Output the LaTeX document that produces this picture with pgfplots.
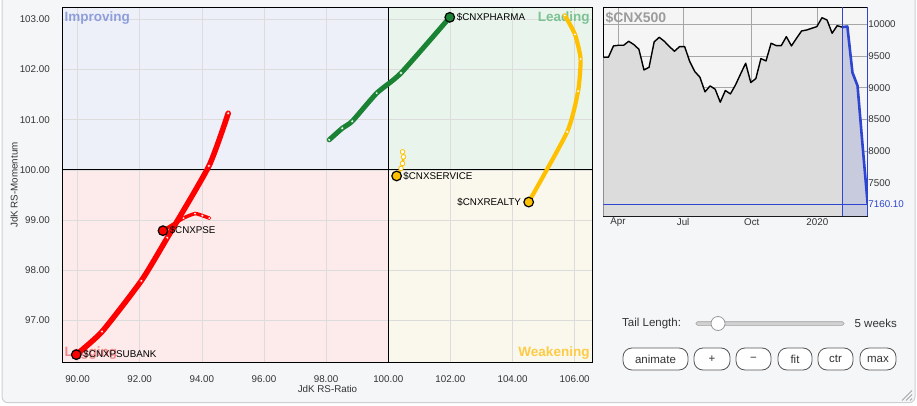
\documentclass[border=0pt]{standalone}
\usepackage{pgfplots}
\usepackage{pgfplotstable}
\pgfplotsset{compat=1.18}
\usepackage{fontspec}
\setmainfont{Liberation Sans}

\definecolor{panelbg}{HTML}{F4F6F8}
\definecolor{panelrule}{HTML}{CDD1D6}
\definecolor{improvingbg}{HTML}{EEF0F9}
\definecolor{leadingbg}{HTML}{E9F4EC}
\definecolor{laggingbg}{HTML}{FDEAEA}
\definecolor{weakeningbg}{HTML}{FAF8EC}
\definecolor{improvingtxt}{HTML}{8E9EDB}
\definecolor{leadingtxt}{HTML}{7CC292}
\definecolor{laggingtxt}{HTML}{F08A8A}
\definecolor{weakeningtxt}{HTML}{FDCB45}
\definecolor{rrggrid}{HTML}{DCDCDC}
\definecolor{ticktxt}{HTML}{333333}
\definecolor{psured}{HTML}{FF0000}
\definecolor{pharmagreen}{HTML}{1A8233}
\definecolor{sectoryellow}{HTML}{FFC000}
\definecolor{pricebg}{HTML}{F5F5F5}
\definecolor{pricefill}{HTML}{DCDCDC}
\definecolor{pricegrid}{HTML}{A6A6A6}
\definecolor{priceblue}{HTML}{2E45D0}
\definecolor{pricebluefill}{HTML}{C8CBDE}
\definecolor{cnxgray}{HTML}{9C9C9C}
\definecolor{buttonrule}{HTML}{555555}

\newcommand{\tickfont}{\fontsize{9.8}{11}\selectfont}
\newcommand{\namefont}{\fontsize{9.8}{11}\selectfont}
\newcommand{\quadfont}{\fontsize{13.5}{15}\selectfont\bfseries}
\newcommand{\uifont}{\fontsize{11.5}{13}\selectfont}

\pgfplotsset{/pgf/number format/assume math mode=true}

% weekly closes of the index, history part
\pgfplotstableread{
k price
0 9480
1 9480
2 9659
3 9669
4 9669
5 9732
6 9680
7 9606
8 9280
9 9322
10 9722
11 9795
12 9732
13 9648
14 9575
15 9648
16 9648
17 9412
18 9254
19 9165
20 8934
21 9028
22 8976
23 8771
24 8955
25 8902
26 9044
27 9217
28 9386
29 9081
30 9144
31 9459
32 9422
33 9701
34 9664
35 9664
36 9805
37 9659
38 9780
39 9895
40 9910
41 9937
42 9963
43 10104
44 10068
45 9859
46 9978
47 9955
}\pricehist
% last five weeks (the tail window)
\pgfplotstableread{
k price
47 9955
48 9965
49 9239
50 9030
51 8080
52 7160.1
}\pricetail

% RRG tails: oldest week first, latest week (head) last
\pgfplotstableread{
x y
94.85 101.13
94.23 100.08
92.89 98.65
92.05 97.79
90.79 96.78
89.96 96.32
}\psubank
\pgfplotstableread{
x y
94.24 99.04
94.02 99.09
93.78 99.13
93.41 99.04
92.75 98.79
}\pse
\pgfplotstableread{
x y
98.10 100.60
98.52 100.83
98.84 100.97
99.63 101.53
100.41 101.93
101.98 103.04
}\pharma
\pgfplotstableread{
x y
105.68 103.08
106.01 102.70
106.19 102.21
106.11 101.57
105.76 100.76
104.52 99.36
}\realty
\pgfplotstableread{
x y
100.46 100.36
100.49 100.26
100.46 100.13
100.41 100.03
100.27 99.88
}\service

\pgfplotsset{
  rrgframe/.style={
    at={(62.3pt,42.3pt)}, anchor=south west,
    width=530.4pt, height=355.4pt, scale only axis,
    xmin=89.51, xmax=106.58, ymin=96.16, ymax=103.24,
  },
  tailline/.style={mark=none, smooth, tension=0.35, line cap=round, line join=round},
  taildots/.style={only marks, mark=*, mark size=1.6pt,
    mark options={fill=white, draw=#1, line width=0.4pt}},
  headdot/.style={only marks, mark=*, mark size=4.8pt,
    mark options={fill=#1, draw=black, line width=1.2pt}},
}

\begin{document}
\begin{tikzpicture}
\useasboundingbox (0pt,0pt) rectangle (917pt,405pt);
\clip (0pt,0pt) rectangle (917pt,405pt);
\begin{scope}[x=1pt, y=1pt]
\fill[white] (0,0) rectangle (917,405);
\draw[panelrule, fill=panelbg, rounded corners=6pt, line width=1pt] (2,2.3) rectangle (915,415);
\end{scope}

% quadrant backgrounds
\begin{axis}[rrgframe, hide axis]
  \fill[improvingbg] (axis cs:89.51,100) rectangle (axis cs:100,103.24);
  \fill[leadingbg]   (axis cs:100,100) rectangle (axis cs:106.58,103.24);
  \fill[laggingbg]   (axis cs:89.51,96.16) rectangle (axis cs:100,100);
  \fill[weakeningbg] (axis cs:100,96.16) rectangle (axis cs:106.58,100);
\end{axis}

% relative rotation graph
\begin{axis}[rrgframe,
  xtick={90,92,...,106}, ytick={97,98,...,103},
  xticklabel={\pgfmathprintnumber[fixed,fixed zerofill,precision=2]{\tick}},
  yticklabel={\pgfmathprintnumber[fixed,fixed zerofill,precision=2]{\tick}},
  tick label style={font=\tickfont, text=ticktxt},
  xticklabel style={yshift=-9pt},
  yticklabel style={xshift=-9pt},
  major tick length=0pt,
  grid=major, grid style={rrggrid, line width=0.6pt},
  axis line style={black, line width=0.9pt},
]
  \addplot[black, line width=0.9pt] coordinates {(100,96.16) (100,103.24)};
  \addplot[black, line width=0.9pt] coordinates {(89.51,100) (106.58,100)};

  \node[anchor=north west, inner sep=0pt, font=\quadfont, text=improvingtxt]
    at ([xshift=2pt,yshift=-4pt]rel axis cs:0,1) {Improving};
  \node[anchor=north east, inner sep=0pt, font=\quadfont, text=leadingtxt]
    at ([xshift=-3pt,yshift=-4pt]rel axis cs:1,1) {Leading};
  \node[anchor=base west, inner sep=0pt, font=\quadfont, text=laggingtxt]
    at ([xshift=2pt,yshift=6pt]rel axis cs:0,0) {Lagging};
  \node[anchor=base east, inner sep=0pt, font=\quadfont, text=weakeningtxt]
    at ([xshift=-3pt,yshift=6pt]rel axis cs:1,0) {Weakening};

  % $CNXSERVICE
  \addplot[tailline, sectoryellow, line width=2.5pt] table {\service};
  \addplot[only marks, mark=*, mark size=2.3pt,
    mark options={fill=white, draw=sectoryellow, line width=0.8pt},
    skip coords between index={4}{5}] table {\service};
  \addplot[headdot=sectoryellow, skip coords between index={0}{4}] table {\service};

  % $CNXREALTY
  \addplot[tailline, sectoryellow, line width=4.2pt] table {\realty};
  \addplot[taildots=sectoryellow, skip coords between index={5}{6}] table {\realty};
  \addplot[headdot=sectoryellow, skip coords between index={0}{5}] table {\realty};

  % $CNXPHARMA
  \addplot[tailline, pharmagreen, line width=5pt] table {\pharma};
  \addplot[taildots=pharmagreen, skip coords between index={5}{6}] table {\pharma};
  \addplot[headdot=pharmagreen, skip coords between index={0}{5}] table {\pharma};

  % $CNXPSE
  \addplot[tailline, psured, line width=3.5pt] table {\pse};
  \addplot[taildots=psured, skip coords between index={4}{5}] table {\pse};

  % $CNXPSUBANK
  \addplot[tailline, psured, line width=5.5pt] table {\psubank};
  \addplot[taildots=psured, skip coords between index={5}{6}] table {\psubank};
  \addplot[headdot=psured, skip coords between index={0}{5}] table {\psubank};
  \addplot[headdot=psured, skip coords between index={0}{4}] table {\pse};

  \node[anchor=west, inner sep=0pt, font=\namefont] at ([xshift=7pt]axis cs:101.98,103.04) {\$CNXPHARMA};
  \node[anchor=west, inner sep=0pt, font=\namefont] at ([xshift=6.6pt]axis cs:100.27,99.88) {\$CNXSERVICE};
  \node[anchor=east, inner sep=0pt, font=\namefont] at ([xshift=-7.5pt]axis cs:104.52,99.36) {\$CNXREALTY};
  \node[anchor=west, inner sep=0pt, font=\namefont] at ([xshift=6.6pt]axis cs:92.75,98.79) {\$CNXPSE};
  \node[anchor=west, inner sep=0pt, font=\namefont] at ([xshift=7pt]axis cs:89.96,96.32) {\$CNXPSUBANK};
\end{axis}

% index panel
\begin{axis}[
  at={(603.3pt,189pt)}, anchor=south west,
  width=264.4pt, height=208.7pt, scale only axis,
  xmin=0, xmax=52, ymin=6976, ymax=10268,
  axis background/.style={fill=pricebg},
  xtick={2.9,15.7,29.2,42.1}, xticklabels={Apr,Jul,Oct,2020},
  ytick={7500,8000,...,10000},
  scaled y ticks=false,
  yticklabel={\pgfmathprintnumber[fixed,precision=0,set thousands separator={}]{\tick}},
  yticklabel pos=right,
  tick label style={font=\tickfont, text=ticktxt},
  yticklabel style={anchor=west, inner sep=0.5pt},
  xticklabel style={inner sep=2pt},
  extra y ticks={7160.1}, extra y tick labels={7160.10},
  extra y tick style={grid=none, yticklabel style={text=priceblue}},
  major tick length=0pt,
  grid=major, grid style={pricegrid, line width=0.6pt},
  axis line style={black, line width=0.9pt},
]
  \addplot[fill=pricefill, draw=none] table[x=k, y=price] {\pricehist} \closedcycle;
  \addplot[fill=pricebluefill, draw=none] table[x=k, y=price] {\pricetail} \closedcycle;
  \addplot[black, line width=1.4pt, line join=round] table[x=k, y=price] {\pricehist};
  \addplot[priceblue, line width=0.9pt] coordinates {(0,7160.1) (52,7160.1)};
  \addplot[priceblue, line width=0.9pt] coordinates {(47,6976) (47,10268)};
  \addplot[priceblue, line width=2.6pt, line join=round] table[x=k, y=price] {\pricetail};
  \node[anchor=north west, inner sep=0pt, font=\fontsize{14}{15}\selectfont\bfseries, text=cnxgray]
    at ([xshift=2pt,yshift=-4.3pt]rel axis cs:0,1) {\$CNX500};
\end{axis}

\begin{scope}[x=1pt, y=1pt]
\draw[priceblue, line width=0.9pt] (867.7,189) -- (867.7,397.7);

\node[font=\tickfont, text=ticktxt] at (327.5,16) {JdK RS-Ratio};
\node[font=\tickfont, text=ticktxt, rotate=90] at (14,220) {JdK RS-Momentum};

% tail length control
\node[anchor=west, inner sep=0pt, font=\uifont, text=ticktxt] at (622,81.5) {Tail Length:};
\draw[gray!75, fill=gray!35, rounded corners=1.5pt, line width=0.6pt] (696,79.7) rectangle (844,83.3);
\draw[gray!80, fill=white, line width=0.8pt] (718,81.5) circle (7);
\node[anchor=east, inner sep=0pt, font=\uifont, text=ticktxt] at (897,81.5) {5 weeks};

% buttons
\foreach \xa/\xb/\lbl in {623/688/animate, 694/730/+, 736/771/−, 778/812/fit, 818/853/ctr, 860/896/max} {
  \draw[buttonrule, fill=white, rounded corners=9pt, line width=0.8pt] (\xa,35) rectangle (\xb,57);
  \node[font=\uifont, text=ticktxt] at ({(\xa+\xb)/2},46) {\lbl};
}

% resize grip
\draw[gray!70, line width=0.8pt] (902,4.5) -- (912,14.5);
\draw[gray!70, line width=0.8pt] (906,4.5) -- (912,10.5);
\draw[gray!70, line width=0.8pt] (910,4.5) -- (912,6.5);
\end{scope}
\end{tikzpicture}
\end{document}
